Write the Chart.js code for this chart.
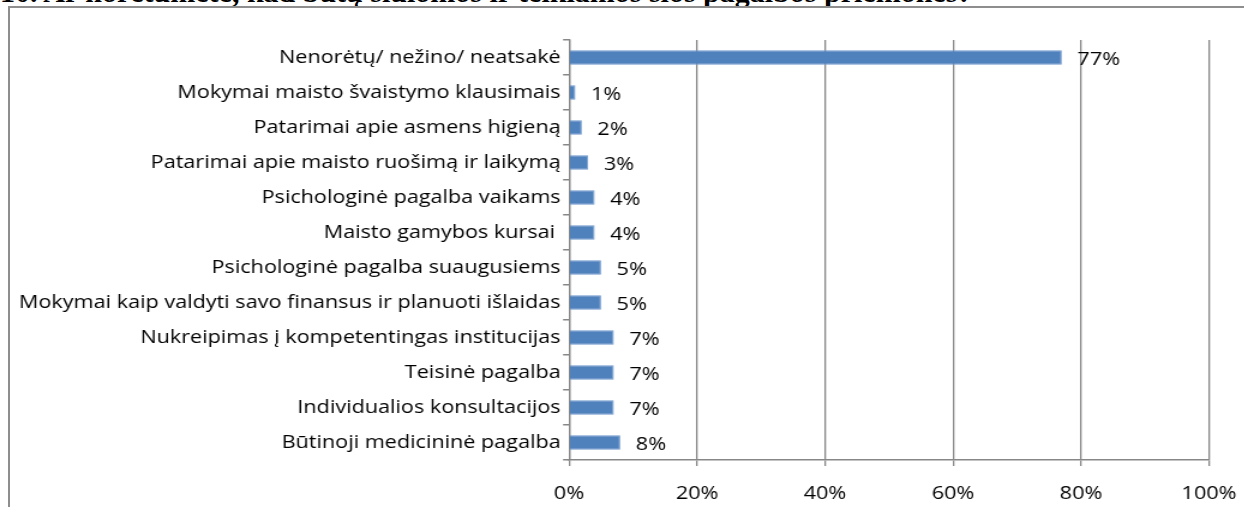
<!DOCTYPE html>
<html>
<head>
<meta charset="utf-8">
<script src="https://cdn.jsdelivr.net/npm/chart.js@4.4.1/dist/chart.umd.min.js"></script>
<style>
  html, body { margin: 0; padding: 0; background: #fff; overflow: hidden; }
  body { width: 1244px; height: 507px; position: relative; }
  #title {
    position: absolute; left: 0; top: -23px; white-space: nowrap;
    font: bold 30px "Liberation Serif", "Times New Roman", serif; line-height: 30px; color: #000;
  }
  #frame {
    position: absolute; left: 8px; top: 6px; width: 1300px; height: 600px;
    border: 2px solid #8e8e8e; background: #fff;
  }
  /* the chart is drawn narrow and stretched sideways, so the wide lettering comes out right */
  #wrap { position: absolute; left: 0; top: 0; width: 1037px; height: 507px; transform: scaleX(1.2); transform-origin: 0 0; }
</style>
</head>
<body>
<div id="title">10. Ar norėtumėte, kad būtų siūlomos ir teikiamos šios pagalbos priemonės?</div>
<div id="frame"></div>
<div id="wrap"><canvas id="chart" width="1037" height="507"></canvas></div>
<script>
// answer options, top to bottom
const categories = [
  'Nenorėtų/ nežino/ neatsakė',
  'Mokymai maisto švaistymo klausimais',
  'Patarimai apie asmens higieną',
  'Patarimai apie maisto ruošimą ir laikymą',
  'Psichologinė pagalba vaikams',
  'Maisto gamybos kursai ',
  'Psichologinė pagalba suaugusiems',
  'Mokymai kaip valdyti savo finansus ir planuoti išlaidas',
  'Nukreipimas į kompetentingas institucijas',
  'Teisinė pagalba',
  'Individualios konsultacijos',
  'Būtinoji medicininė pagalba'
];
// share of respondents, %
const shares = [77, 1, 2, 3, 4, 4, 5, 5, 7, 7, 7, 8];
const xTicks = [0, 20, 40, 60, 80, 100];

const FONT = '"Open Sans", sans-serif';
const GRID = '#878787';

// value labels just past the end of each bar
const barLabels = {
  id: 'barLabels',
  afterDatasetsDraw(chart) {
    const ctx = chart.ctx;
    const meta = chart.getDatasetMeta(0);
    ctx.save();
    ctx.font = '18px ' + FONT;
    ctx.fillStyle = '#000';
    ctx.textAlign = 'left';
    ctx.textBaseline = 'middle';
    meta.data.forEach((bar, i) => {
      ctx.fillText(shares[i] + '%', bar.x + 13, bar.y + 2);
    });
    ctx.restore();
  }
};

new Chart(document.getElementById('chart'), {
  type: 'bar',
  data: {
    labels: categories,
    datasets: [{
      data: shares,
      backgroundColor: '#4f81bd',
      borderColor: '#6f98cc',
      borderWidth: 1,
      borderSkipped: 'start',
      categoryPercentage: 1,
      barPercentage: 0.42
    }]
  },
  options: {
    indexAxis: 'y',
    responsive: false,
    animation: false,
    layout: { padding: { top: 40, right: 29.5, left: 0, bottom: 0 } },
    plugins: { legend: { display: false }, tooltip: { enabled: false } },
    scales: {
      x: {
        min: 0, max: 100,
        afterBuildTicks(scale) { scale.ticks = xTicks.map(v => ({ value: v })); },
        afterFit(scale) {
          scale.height = 47;
          // the 100% label may hang past the edge; keep the plot width fixed
          scale.paddingLeft = 0;
          scale.paddingRight = 0;
        },
        grid: { color: GRID, lineWidth: 1.3, tickLength: 6 },
        border: { color: GRID, width: 1.5 },
        ticks: {
          color: '#000', padding: 17,
          font: { family: FONT, size: 18 },
          callback: v => v + '%'
        }
      },
      y: {
        afterFit(scale) { scale.width = 474.2; },
        grid: { offset: true, drawOnChartArea: false, color: GRID, lineWidth: 1.5, tickLength: 5 },
        border: { color: GRID, width: 1.3 },
        ticks: {
          color: '#000', padding: 2, autoSkip: false,
          font: { family: FONT, size: 18 }
        }
      }
    }
  },
  plugins: [barLabels]
});
</script>
</body>
</html>
